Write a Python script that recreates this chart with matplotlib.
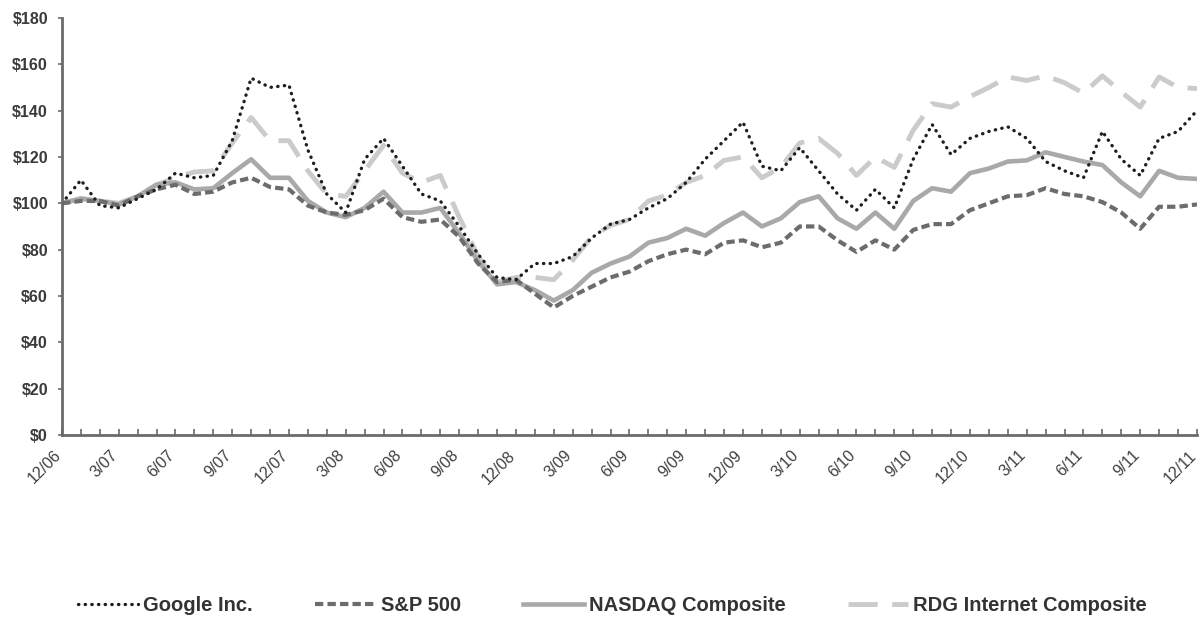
import matplotlib as mpl
mpl.use('Agg')
import matplotlib.pyplot as plt
import matplotlib.transforms as mtransforms
import numpy as np

# monthly index values, 12/06 .. 12/11
google = [100, 110, 99, 98, 102, 106, 113, 111, 112, 127, 154, 150, 151, 123, 104, 96,
          119, 128, 116, 104, 101, 90, 78, 68, 67, 74, 74, 77, 85, 91, 93, 98, 102, 109,
          119, 127, 135, 116, 114, 124, 114, 104, 97, 106, 98, 119, 134, 121, 128, 131,
          133, 128, 118, 114, 111, 131, 119, 112, 128, 131, 140]
sp500 = [100, 101, 101, 99, 103, 106, 108, 104, 105, 109, 111, 107, 106, 99, 96, 95,
         97, 102, 94, 92, 93, 85.5, 74, 66, 67, 61, 55, 60, 64, 68, 70.5, 75, 78, 80,
         78, 83, 84, 81, 83, 90, 90, 84, 79, 84, 80, 88.5, 91, 91, 97, 100, 103, 103.5,
         106.5, 104, 103, 100.5, 96, 89, 98.5, 98.5, 99.5]
nasdaq = [100, 102, 101, 99.5, 103, 108, 109, 106, 106.5, 113, 119, 111, 111, 101, 96, 94,
          98, 105, 96, 96, 98, 87, 75, 65, 66, 62.5, 58, 62.5, 70, 74, 77, 83, 85, 89,
          86, 91.5, 96, 90, 93.5, 100.5, 103, 93.5, 89, 96, 89, 101, 106.5, 105, 113, 115,
          118, 118.5, 122, 120, 118, 116.5, 109, 103, 114, 111, 110.5]
rdg = [100, 102, 101, 100, 103, 108, 111, 113.5, 114, 126, 137, 127, 127, 114, 104, 103,
       114, 125, 113, 109, 112, 94, 77, 66, 68, 68, 67, 75.5, 85.5, 90.5, 93, 101, 103.5,
       109, 112, 118.5, 120, 111, 115.5, 126, 128, 121.5, 112, 120, 115.5, 131.5, 143,
       141.5, 146, 150, 154.5, 153, 155, 152, 147.5, 155, 148, 141.5, 154.5, 150, 149.5]

quarter_labels = ['12/06', '3/07', '6/07', '9/07', '12/07', '3/08', '6/08', '9/08',
                  '12/08', '3/09', '6/09', '9/09', '12/09', '3/10', '6/10', '9/10',
                  '12/10', '3/11', '6/11', '9/11', '12/11']
series_names = ['Google Inc.', 'S&P 500', 'NASDAQ Composite', 'RDG Internet Composite']

plt.rcParams['font.family'] = ['Liberation Sans', 'DejaVu Sans']

fig = plt.figure(figsize=(12.03, 6.17), dpi=100)
ax = fig.add_axes([0.0515, 0.295, 0.9435, 0.676])

months = np.arange(len(google))

l_rdg, = ax.plot(months, rdg, color='#cbcbcb', lw=3.5, dashes=(6, 3),
                 solid_joinstyle='round', dash_capstyle='butt')
l_nas, = ax.plot(months, nasdaq, color='#a9a9a9', lw=3.3, solid_joinstyle='round')
l_sp, = ax.plot(months, sp500, color='#6c6c6c', lw=3, dashes=(2, 1),
                dash_capstyle='butt')
l_goog, = ax.plot(months, google, color='#1e1e1e', lw=2.4, dashes=(0.1, 1.9),
                  dash_capstyle='round')

ax.set_xlim(0, 60)
ax.set_ylim(0, 180)

ax.set_yticks(np.arange(0, 181, 20))
ax.set_yticklabels([f'${v}' for v in range(0, 181, 20)])

tick_labels = [''] * len(months)
for k, lab in enumerate(quarter_labels):
    tick_labels[k * 3] = lab
ax.set_xticks(months)
ax.set_xticklabels(tick_labels, rotation=45, ha='right', va='center',
                   rotation_mode='anchor')

for side in ['top', 'right']:
    ax.spines[side].set_visible(False)
for side in ['left', 'bottom']:
    ax.spines[side].set_color('#6a6a6a')
    ax.spines[side].set_linewidth(2)

ax.tick_params(axis='y', direction='out', length=3, width=1.2, color='#6a6a6a',
               labelsize=11.5, labelcolor='#3a3a3a', pad=7)
ax.tick_params(axis='x', direction='in', length=4, width=1.2, color='#6a6a6a',
               labelsize=11.5, labelcolor='#404040', pad=13)
for lab in ax.get_yticklabels():
    lab.set_fontweight('bold')
shift = mtransforms.ScaledTranslation(-3 / 100, 0, fig.dpi_scale_trans)
for lab in ax.get_xticklabels():
    lab.set_transform(lab.get_transform() + shift)

fig.legend([l_goog, l_sp, l_nas, l_rdg], series_names, loc='center',
           bbox_to_anchor=(0.509, 0.018), ncol=4, frameon=False,
           handlelength=3.0, handletextpad=0.25, columnspacing=3.1,
           prop={'size': 14.5, 'weight': 'bold'}, labelcolor='#333333')

fig.savefig('out.png', dpi=100)
